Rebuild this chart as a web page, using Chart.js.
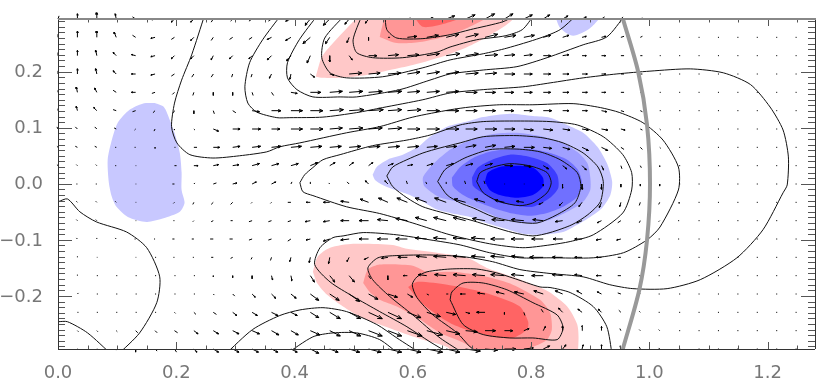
<!DOCTYPE html>
<html>
<head>
<meta charset="utf-8">
<style>
  html, body { margin: 0; padding: 0; background: #fff; }
  canvas { display: block; }
</style>
</head>
<body>
<canvas id="flowChart" width="830" height="384"></canvas>
<script src="https://cdn.jsdelivr.net/npm/chart.js@4/dist/chart.umd.min.js"></script>
<script>
// Filled levels, [x, y] in axis units
const blueLevel1 = [[.532,.016],[.539,.030],[.561,.045],[.583,.052],[.609,.066],[.629,.084],[.658,.102],[.692,.111],[.719,.119],[.764,.125],[.803,.121],[.832,.118],[.861,.105],[.888,.091],[.912,.066],[.928,.037],[.937,.004],[.934,-.020],[.920,-.043],[.900,-.059],[.878,-.073],[.854,-.086],[.815,-.091],[.786,-.089],[.747,-.077],[.719,-.068],[.697,-.059],[.663,-.052],[.641,-.046],[.617,-.032],[.595,-.020],[.573,-.012],[.549,-.002],[.536,.007]];
const blueLevel2 = [[.663,.061],[.697,.078],[.736,.089],[.776,.091],[.820,.084],[.854,.073],[.878,.057],[.895,.037],[.900,.012],[.900,-.011],[.888,-.032],[.861,-.050],[.832,-.064],[.803,-.070],[.776,-.068],[.742,-.059],[.714,-.046],[.685,-.034],[.663,-.029],[.643,-.023],[.620,-.005],[.617,.011],[.629,.029],[.642,.043]];
const blueLevel3 = [[.666,.011],[.680,.030],[.702,.046],[.730,.057],[.764,.062],[.798,.062],[.832,.055],[.861,.043],[.879,.025],[.886,.002],[.878,-.023],[.854,-.041],[.827,-.052],[.798,-.057],[.769,-.053],[.736,-.043],[.709,-.032],[.685,-.020],[.668,-.005]];
const blueLevel4 = [[.700,.011],[.710,.029],[.734,.043],[.764,.052],[.798,.048],[.827,.037],[.844,.016],[.846,-.007],[.832,-.025],[.803,-.041],[.776,-.039],[.742,-.032],[.717,-.016],[.702,-.004]];
const blueLevel5 = [[.722,.004],[.727,.020],[.747,.030],[.776,.032],[.803,.029],[.820,.011],[.820,-.005],[.803,-.020],[.776,-.025],[.747,-.020],[.730,-.011]];
const blueLeft = [[.164,.144],[.143,.143],[.121,.132],[.101,.109],[.091,.078],[.084,.043],[.086,.002],[.091,-.023],[.099,-.041],[.118,-.059],[.150,-.068],[.177,-.062],[.206,-.050],[.214,-.034],[.209,-.011],[.209,.020],[.206,.055],[.197,.091],[.189,.114],[.179,.137]];
const blueTop = [[.840,.301],[.849,.278],[.871,.264],[.900,.278],[.917,.301]];
const redTop1 = [[.436,.191],[.446,.226],[.465,.251],[.497,.287],[.514,.301],[.773,.301],[.759,.284],[.725,.262],[.692,.244],[.658,.230],[.600,.212],[.561,.203],[.522,.194],[.477,.189],[.448,.189]];
const redTop2 = [[.544,.262],[.548,.280],[.556,.301],[.729,.301],[.692,.278],[.651,.262],[.612,.253],[.573,.251]];
const redTop3 = [[.600,.301],[.617,.280],[.651,.285],[.692,.301]];
const redLow1 = [[.431,-.157],[.439,-.130],[.460,-.114],[.499,-.107],[.566,-.109],[.590,-.116],[.641,-.123],[.692,-.132],[.725,-.150],[.769,-.166],[.815,-.185],[.832,-.194],[.861,-.219],[.878,-.251],[.880,-.282],[.875,-.305],[.671,-.305],[.658,-.291],[.617,-.278],[.583,-.266],[.544,-.251],[.510,-.237],[.482,-.219],[.455,-.198],[.438,-.177]];
const redLow2 = [[.516,-.177],[.524,-.153],[.544,-.144],[.600,-.146],[.624,-.157],[.668,-.157],[.725,-.166],[.769,-.180],[.815,-.207],[.832,-.230],[.835,-.260],[.827,-.278],[.803,-.291],[.769,-.305],[.719,-.305],[.685,-.283],[.646,-.266],[.612,-.242],[.573,-.219],[.544,-.207],[.527,-.193]];
const redLow3 = [[.592,-.184],[.607,-.175],[.658,-.180],[.702,-.189],[.742,-.201],[.781,-.219],[.795,-.246],[.793,-.260],[.769,-.275],[.736,-.273],[.702,-.264],[.668,-.251],[.641,-.234],[.612,-.210]];

// Contour lines
const lineTop1 = [[.553,.301],[.556,.275],[.573,.260],[.617,.259],[.663,.266],[.697,.275],[.752,.289],[.773,.300]];
const lineTop2 = [[.514,.301],[.499,.257],[.505,.234],[.532,.225],[.583,.225],[.641,.235],[.663,.244],[.708,.257],[.756,.264],[.785,.275],[.805,.301]];
const lineTop3 = [[.485,.301],[.451,.260],[.446,.225],[.460,.198],[.488,.189],[.549,.191],[.617,.207],[.663,.221],[.719,.232],[.759,.242],[.815,.260],[.849,.275],[.877,.301]];
const lineTop4 = [[.439,.301],[.408,.257],[.388,.216],[.388,.189],[.404,.168],[.431,.155],[.477,.155],[.505,.155],[.578,.168],[.629,.185],[.663,.196],[.719,.203],[.776,.209],[.827,.225],[.888,.248],[.928,.262],[.959,.301]];
const lineBigLoop = [[.377,.301],[.346,.257],[.324,.216],[.316,.173],[.321,.144],[.336,.128],[.370,.118],[.392,.118],[.448,.119],[.505,.127],[.549,.136],[.617,.150],[.663,.162],[.719,.168],[.786,.173],[.832,.180],[.888,.189],[.945,.196],[1.001,.201],[1.069,.205],[1.125,.198],[1.171,.177],[1.204,.137],[1.226,.096],[1.235,.048],[1.233,-.002],[1.226,-.016],[1.192,-.082],[1.148,-.132],[1.086,-.171],[1.030,-.187],[.972,-.187],[.933,-.180],[.888,-.166],[.832,-.160],[.781,-.153],[.735,-.139],[.685,-.130],[.629,-.127],[.573,-.128],[.541,-.132],[.524,-.150],[.532,-.171],[.561,-.201],[.600,-.234],[.646,-.275],[.690,-.305]];
const lineMidLoop = [[.248,.301],[.226,.230],[.209,.185],[.197,.144],[.192,.102],[.201,.073],[.223,.052],[.262,.046],[.307,.050],[.353,.057],[.375,.066],[.409,.073],[.488,.091],[.544,.102],[.600,.119],[.663,.132],[.697,.137],[.747,.141],[.803,.141],[.871,.143],[.917,.136],[.950,.127],[.989,.109],[1.023,.078],[1.049,.030],[1.049,-.011],[1.018,-.077],[.996,-.100],[.956,-.123],[.905,-.132],[.832,-.132],[.781,-.132],[.730,-.123],[.680,-.109],[.629,-.100],[.573,-.091],[.516,-.087],[.482,-.093],[.465,-.096],[.443,-.114],[.434,-.144],[.460,-.175],[.499,-.201],[.544,-.228],[.590,-.255],[.629,-.282],[.666,-.305]];
const ringOuter = [[.409,.002],[.417,.016],[.431,.029],[.448,.043],[.477,.052],[.532,.068],[.590,.078],[.629,.087],[.680,.105],[.719,.111],[.776,.112],[.832,.111],[.878,.105],[.922,.084],[.955,.052],[.970,.020],[.970,-.011],[.955,-.052],[.905,-.091],[.866,-.103],[.832,-.109],[.786,-.114],[.730,-.107],[.663,-.091],[.600,-.070],[.544,-.053],[.488,-.041],[.431,-.021],[.414,-.014]];
const ringMid = [[.556,.014],[.566,.030],[.590,.043],[.617,.055],[.646,.064],[.680,.073],[.719,.084],[.776,.086],[.820,.082],[.854,.073],[.888,.055],[.913,.030],[.922,.004],[.917,-.032],[.896,-.055],[.869,-.073],[.832,-.087],[.803,-.093],[.769,-.087],[.736,-.077],[.702,-.066],[.663,-.055],[.617,-.041],[.590,-.025],[.566,-.005]];
const ringInner = [[.642,.004],[.654,.025],[.675,.039],[.692,.048],[.730,.061],[.776,.062],[.815,.057],[.849,.043],[.878,.020],[.884,-.005],[.874,-.034],[.844,-.055],[.810,-.070],[.776,-.068],[.736,-.059],[.702,-.043],[.680,-.034],[.658,-.020]];
const ringCore = [[.708,.004],[.714,.020],[.736,.030],[.764,.036],[.798,.032],[.827,.020],[.834,.002],[.827,-.016],[.803,-.034],[.781,-.039],[.747,-.032],[.719,-.016]];
const lineLowRed = [[.717,-.305],[.697,-.291],[.675,-.266],[.634,-.234],[.607,-.203],[.599,-.180],[.607,-.166],[.624,-.157],[.663,-.152],[.708,-.152],[.742,-.159],[.769,-.168],[.815,-.184],[.832,-.185],[.866,-.194],[.905,-.219],[.928,-.255],[.937,-.305]];
const ringRed = [[.663,-.207],[.666,-.193],[.685,-.177],[.719,-.177],[.759,-.189],[.803,-.212],[.844,-.234],[.854,-.257],[.844,-.278],[.803,-.275],[.764,-.275],[.719,-.269],[.685,-.251]];
const lineArcB = [[.282,-.305],[.329,-.260],[.375,-.235],[.409,-.225],[.448,-.221],[.488,-.228],[.539,-.251],[.573,-.275],[.617,-.305]];
const lineArcC = [[.384,-.305],[.431,-.273],[.465,-.266],[.505,-.266],[.544,-.278],[.578,-.305]];
const lineCornerD = [[-.014,-.034],[0,-.032],[.016,-.027],[.037,-.050],[.065,-.068],[.116,-.086],[.150,-.114],[.172,-.166],[.167,-.212],[.138,-.266],[.101,-.305]];
const lineCornerE = [[0,-.246],[.016,-.246],[.050,-.266],[.091,-.305]];
const shockLine = [[.955,.295],[.981,.200],[.996,.105],[1.001,0],[.996,-.100],[.983,-.189],[.955,-.295]];

// Velocity components, one row per y from top to bottom, 39 columns
const velU = [
  [1,0,0,-1,-3, -3,-3,-3,-2,-2, -3,-3,-5,-5,-6, -4,-3,1,3,6, 8,9,9,8,8, 6,5,4,3,2, 2,1,1,1,1, 1,1,1,1],
  [0,0,0,-2,-3, -4,-3,-3,-2,-3, -3,-4,-5,-7,-4, -2,0,2,9,11, 12,12,12,11,10, 7,6,4,4,3, 2,1,1,1,1, 1,1,1,1],
  [0,0,-1,-3,-4, -4,-3,-3,-2,-3, -3,-4,-4,-3,0, 3,8,10,11,12, 13,12,12,10,8, 7,6,4,4,3, 2,1,1,1,1, 1,1,1,1],
  [0,0,-1,-3,-4, -4,-3,-2,-2,-1, -1,-2,-1,4,4, 12,11,12,12,12, 12,12,11,10,8, 7,6,5,4,3, 2,1,1,1,1, 1,1,1,1],
  [0,-1,-2,-3,-4, -3,-2,-1,0,0, 1,2,6,10,12, 13,13,13,12,12, 12,11,10,9,8, 7,6,5,4,3, 2,1,1,1,1, 1,1,1,1],
  [0,-1,-3,-3,-3, -2,-1,0,1,3, 7,9,11,12,13, 14,14,13,13,12, 12,11,10,9,8, 8,6,5,5,3, 2,1,1,1,1, 1,1,1,1],
  [-1,-2,-2,-2,-1, -1,0,1,5,7, 8,8,11,12,12, 13,13,13,12,12, 12,11,11,10,9, 9,7,6,6,4, 2,1,1,1,1, 1,1,1,1],
  [-1,-2,-2,-1,-1, 0,1,3,6,7, 8,9,10,11,11, 11,11,11,11,10, 10,10,10,10,10, 8,7,6,6,3, 2,1,1,1,1, 1,1,1,1],
  [-1,-1,-1,-1,0, 0,2,4,5,6, 7,7,7,7,5, 4,4,5,5,6, 7,7,7,8,7, 5,4,4,2,1, 1,0,1,1,1, 1,1,1,1],
  [0,-1,-1,0,0, 0,-2,1,3,4, 4,4,1,0,-1, -2,-3,-3,-1,-1, 0,-1,-1,0,0, 0,0,0,0,0, 0,0,1,1,1, 1,1,1,1],
  [0,-1,-1,-1,0, 0,-1,-1,-2,-2, -1,-1,-3,-4,-6, -8,-8,-9,-10,-11, -11,-11,-10,-9,-7, -4,-3,-3,-2,-1, -1,-1,0,1,1, 1,1,1,1],
  [0,-1,-1,0,0, 0,-1,-1,-2,-2, -3,-3,-3,-5,-6, -8,-9,-10,-11,-11, -12,-12,-12,-12,-12, -10,-7,-5,-4,-3, -1,-1,-1,1,1, 1,1,1,1],
  [0,-1,0,-1,-1, -1,-2,-2,-3,-3, -3,-3,-3,-4,-6, -8,-9,-10,-11,-11, -12,-12,-13,-13,-12, -11,-9,-7,-5,-4, -2,-1,-1,1,1, 1,1,1,1],
  [0,0,0,0,0, 1,-1,-1,-2,-2, -1,-1,-1,-1,-1, -2,-4,-6,-9,-10, -12,-12,-13,-13,-12, -13,-10,-7,-5,-3, -2,-1,1,1,1, 1,1,1,1],
  [0,0,1,1,1, 1,1,1,0,0, 0,1,1,4,5, 5,2,0,-4,-8, -11,-12,-12,-13,-12, -11,-10,-7,-5,-3, -1,-1,1,1,1, 1,1,1,1],
  [0,1,1,1,1, 1,1,1,1,2, 3,4,5,8,9, 10,9,9,5,2, 2,-5,-7,-8,-9, -9,-7,-5,-4,-3, -1,-1,1,1,1, 1,1,1,1],
  [0,1,1,1,1, 1,1,2,3,4, 5,6,6,8,10, 11,13,13,13,13, 9,4,-8,0,1, -2,-4,-4,-3,-2, -1,-1,1,1,1, 1,1,1,1],
  [0,1,1,1,2, 2,3,4,5,6, 7,7,7,9,10, 11,13,13,14,15, 13,11,10,8,5, 2,0,0,0,-1, -1,-1,1,1,1, 1,1,1,1],
  [0,0,0,0,0, 2,2,3,5,6, 6,6,6,8,8, 10,12,13,13,15, 13,14,12,11,9, 6,3,1,0,-1, -1,-1,1,1,1, 1,1,1,1]
];
const velV = [
  [3,5,6,5,2, -1,-3,-3,-3,-2, -2,-2,-2,-6,-6, -5,-4,1,1,1, 3,4,5,5,4, 4,3,2,2,2, 1,0,0,0,0, 0,0,0,0],
  [3,6,6,5,2, -1,-2,-3,-3,-2, -2,-2,-3,-6,-6, -5,-3,0,1,2, 3,3,3,2,2, 2,2,1,1,1, 1,0,0,0,0, 0,0,0,0],
  [3,5,5,3,1, -1,-3,-3,-4,-3, -3,-4,-5,-7,-6, -4,0,1,1,2, 2,2,1,1,1, 0,1,0,0,0, 0,0,0,0,0, 0,0,0,0],
  [3,5,5,3,0, -1,-2,-3,-3,-3, -3,-4,-5,-3,-1, 1,1,1,2,2, 2,1,1,0,0, 0,0,0,0,0, 0,0,0,0,0, 0,0,0,0],
  [2,5,4,2,0, -1,-2,-3,-3,-3, -3,-3,-1,0,1, 1,1,1,1,1, 1,0,0,0,0, 0,0,0,0,0, 0,0,0,0,0, 0,0,0,0],
  [2,4,3,1,-1, -2,-2,-3,-3,-2, -1,0,0,0,1, 1,1,1,1,0, 0,0,0,0,0, 0,0,0,-1,-1, -1,0,0,0,0, 0,0,0,0],
  [2,2,2,1,-1, -2,-1,-1,-2,0, 0,0,0,0,1, 1,1,1,0,0, 0,0,0,0,-1, -1,-1,-1,-1,-1, -1,-1,0,0,0, 0,0,0,0],
  [1,1,1,0,0, -1,0,0,0,1, 1,1,1,1,1, 1,1,1,1,1, 1,2,2,1,0, -1,-2,-3,-3,-2, -2,-1,0,0,0, 0,0,0,0],
  [1,1,1,0,0, 0,0,0,1,1, 2,2,2,3,3, 3,3,2,1,2, 2,2,2,0,-1, -3,-3,-4,-4,-3, -2,-1,0,0,0, 0,0,0,0],
  [0,0,0,0,0, 0,0,1,1,1, 2,2,2,2,1, 2,3,3,3,2, 2,3,3,0,0, -2,-4,-5,-5,-3, -2,-2,0,0,0, 0,0,0,0],
  [0,1,1,1,0, 0,-1,-2,-2,-2, -1,-1,0,0,0, 1,3,4,4,4, 4,3,3,2,1, -2,-3,-4,-5,-4, -3,-2,-1,0,0, 0,0,0,0],
  [0,1,1,0,0, 0,0,-1,-1,0, -1,-1,-1,-1,-1, 0,0,1,2,3, 3,3,2,1,1, 1,-1,-2,-2,-2, -2,-1,0,0,0, 0,0,0,0],
  [0,1,1,1,0, 0,0,0,0,0, -1,-1,-2,-1,-2, -1,0,0,0,1, 1,1,1,0,0, 0,0,0,-1,-1, -1,0,0,0,0, 0,0,0,0],
  [0,1,0,0,0, 0,0,0,0,-1, -2,-3,-4,-5,-6, -4,-2,-1,0,1, 1,1,1,1,1, 0,0,0,0,0, 0,0,0,0,0, 0,0,0,0],
  [0,1,0,0,0, 0,0,0,-1,-2, -3,-4,-5,-6,-6, -6,-3,-4,0,1, 1,1,1,1,1, 0,1,1,0,0, 0,0,0,0,0, 0,0,0,0],
  [0,1,0,0,0, 0,0,0,-1,-2, -3,-4,-4,-6,-6, -7,-5,-3,-3,-1, 0,0,1,2,2, 3,3,3,2,1, 1,0,0,0,0, 0,0,0,0],
  [0,0,0,0,0, 0,-1,-2,-2,-3, -3,-3,-3,-5,-6, -6,-6,-6,-5,-4, -2,-1,0,-2,-3, 3,4,3,3,2, 1,0,0,0,0, 0,0,0,0],
  [0,-1,-1,-1,-2, -2,-2,-3,-3,-3, -3,-4,-4,-4,-5, -5,-5,-5,-5,-4, -3,-1,0,0,2, 4,4,5,4,2, 1,1,0,0,0, 0,0,0,0],
  [0,0,0,-1,-3, -2,-3,-3,-3,-3, -3,-3,-3,-4,-3, -3,-3,-3,-3,-3, -3,-2,-1,0,1, 3,4,4,4,3, 2,1,0,0,0, 0,0,0,0]
];

const xMin = 0, xMax = 1.28, yMin = -0.2947, yMax = 0.294;
const colStep = xMax / 39;
const rowStep = (yMax - yMin) / 18;
const velToX = 1.05 / 591, velToY = 1.05 / 561;

const blues = ['#c8c8ff', '#a0a0ff', '#7070ff', '#3c3cff', '#0000ff'];
const reds = ['#ffc8c8', '#ff9696', '#ff6464'];

const fills = [
  [blueLeft, blues[0]], [blueTop, blues[0]],
  [blueLevel1, blues[0]], [blueLevel2, blues[1]], [blueLevel3, blues[2]], [blueLevel4, blues[3]], [blueLevel5, blues[4]],
  [redTop1, reds[0]], [redTop2, reds[1]], [redTop3, reds[2]],
  [redLow1, reds[0]], [redLow2, reds[1]], [redLow3, reds[2]]
];
const openLines = [lineTop1, lineTop2, lineTop3, lineTop4, lineBigLoop, lineMidLoop, lineLowRed, lineArcB, lineArcC, lineCornerD, lineCornerE];
const closedLines = [ringOuter, ringMid, ringInner, ringCore, ringRed];

const toPoints = pts => pts.map(p => ({ x: p[0], y: p[1] }));
const closeLoop = pts => pts.concat([pts[0]]);

// every arrow is one piece of a single broken line: tail, tip, barb, tip, barb
// slow arrows stay plain ticks, a head on them only makes a blob
function arrowPoints() {
  const out = [];
  velU.forEach((row, j) => {
    row.forEach((u0, i) => {
      const v = velV[j][i];
      const u = (u0 === 0 && v === 0) ? 0.6 : u0;
      const x = xMin + i * colStep;
      const y = yMax - j * rowStep;
      const tipX = x + u * velToX;
      const tipY = y + v * velToY;
      out.push({ x, y }, { x: tipX, y: tipY });
      if (Math.hypot(u, v) >= 4) {
        const h = 0.32, c = Math.cos(0.4), s = Math.sin(0.4);
        out.push({ x: tipX - h * (u * c - v * s) * velToX, y: tipY - h * (u * s + v * c) * velToY });
        out.push({ x: tipX, y: tipY });
        out.push({ x: tipX - h * (u * c + v * s) * velToX, y: tipY - h * (-u * s + v * c) * velToY });
      }
      out.push({ x: null, y: null });
    });
  });
  return out;
}

const datasets = [];
let drawOrder = 1000;
fills.forEach(f => {
  datasets.push({
    data: toPoints(closeLoop(f[0])), showLine: true, fill: 'shape', backgroundColor: f[1],
    borderWidth: 0, borderColor: f[1], pointRadius: 0, tension: 0.25, order: drawOrder--
  });
});
openLines.concat(closedLines.map(closeLoop)).forEach(line => {
  datasets.push({
    data: toPoints(line), showLine: true, borderColor: '#111', borderWidth: 1,
    pointRadius: 0, tension: 0.25, order: drawOrder--
  });
});
datasets.push({
  data: arrowPoints(), showLine: true, borderColor: '#000', borderWidth: 1, pointRadius: 0,
  spanGaps: false, clip: false, order: drawOrder--
});
datasets.push({
  data: toPoints(shockLine), showLine: true, borderColor: '#999', borderWidth: 4,
  pointRadius: 0, tension: 0.3, order: drawOrder--
});

// IDL style frame, ticks point inwards on all four sides
const idlFrame = {
  id: 'idlFrame',
  afterDatasetsDraw(chart) {
    const { ctx, chartArea: a, scales } = chart;
    ctx.save();
    ctx.strokeStyle = '#555';
    ctx.lineWidth = 1;
    ctx.beginPath();
    scales.x.ticks.forEach(t => {
      if (t.value < xMin || t.value > xMax) return;
      const px = Math.round(scales.x.getPixelForValue(t.value)) + 0.5;
      const len = Math.round(t.value * 100) % 20 === 0 ? 7 : 3.5;
      ctx.moveTo(px, a.top); ctx.lineTo(px, a.top + len);
      ctx.moveTo(px, a.bottom); ctx.lineTo(px, a.bottom - len);
    });
    scales.y.ticks.forEach(t => {
      if (t.value < yMin || t.value > yMax) return;
      const py = Math.round(scales.y.getPixelForValue(t.value)) + 0.5;
      const len = Math.round(t.value * 100) % 10 === 0 ? 14 : 7;
      ctx.moveTo(a.left, py); ctx.lineTo(a.left + len, py);
      ctx.moveTo(a.right, py); ctx.lineTo(a.right - len, py);
    });
    ctx.stroke();
    ctx.strokeStyle = '#333';
    ctx.beginPath();
    ctx.moveTo(a.left + 0.5, a.top); ctx.lineTo(a.left + 0.5, a.bottom);
    ctx.moveTo(a.left, a.bottom + 0.5); ctx.lineTo(a.right, a.bottom + 0.5);
    ctx.moveTo(a.right + 0.5, a.top); ctx.lineTo(a.right + 0.5, a.bottom);
    ctx.stroke();
    ctx.strokeStyle = '#888';
    ctx.lineWidth = 2;
    ctx.beginPath();
    ctx.moveTo(a.left, a.top); ctx.lineTo(a.right + 1, a.top);
    ctx.stroke();
    ctx.restore();
  }
};

const tickFont = { family: '"DejaVu Sans"', size: 18 };

new Chart(document.getElementById('flowChart'), {
  type: 'scatter',
  data: { datasets },
  plugins: [idlFrame],
  options: {
    responsive: false,
    animation: false,
    layout: { padding: { top: 19, right: 15, left: 0, bottom: 0 } },
    plugins: { legend: { display: false }, tooltip: { enabled: false } },
    scales: {
      x: {
        type: 'linear', min: xMin, max: xMax,
        grid: { display: false }, border: { display: false },
        afterFit: s => { s.height = 35; },
        ticks: {
          stepSize: 0.05, includeBounds: false, autoSkip: false, maxRotation: 0,
          padding: 6, color: '#777', font: tickFont,
          callback: v => Math.round(v * 100) % 20 === 0 ? v.toFixed(1) : ''
        }
      },
      y: {
        type: 'linear', min: yMin, max: yMax,
        grid: { display: false }, border: { display: false },
        afterFit: s => { s.width = 58; },
        ticks: {
          stepSize: 0.01, includeBounds: false, autoSkip: false,
          padding: 7, color: '#777', font: tickFont, labelOffset: 1,
          callback: v => {
            if (Math.round(v * 100) % 10 !== 0 || Math.abs(v) > 0.25) return '';
            return (v < -0.001 ? '\u2212' : '') + Math.abs(v).toFixed(1);
          }
        }
      }
    }
  }
});
</script>
</body>
</html>
